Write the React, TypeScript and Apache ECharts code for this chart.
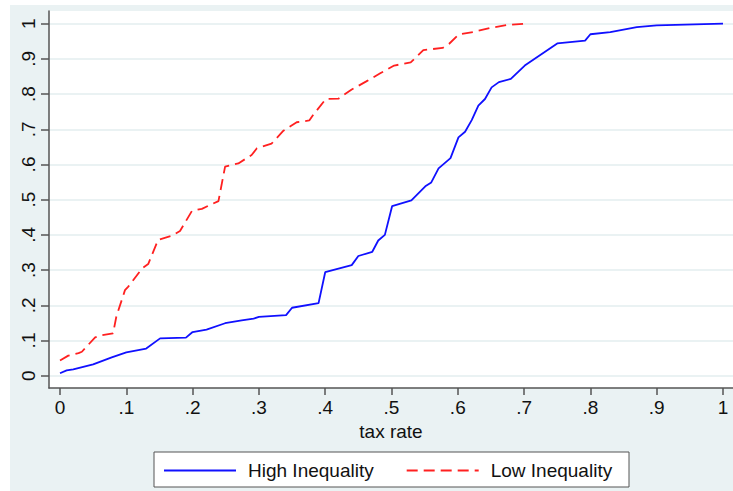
import React, { useEffect, useRef } from "react";
import * as echarts from "echarts";

// High Inequality (solid blue)
const hiX = [0, 0.01, 0.02, 0.05, 0.078, 0.1, 0.13, 0.151, 0.19, 0.2, 0.221, 0.249, 0.274, 0.292, 0.3, 0.341, 0.35, 0.39, 0.4, 0.44, 0.45, 0.471, 0.48, 0.49, 0.501, 0.53, 0.551, 0.56, 0.571, 0.589, 0.601, 0.611, 0.621, 0.631, 0.641, 0.651, 0.662, 0.68, 0.701, 0.75, 0.792, 0.8, 0.83, 0.87, 0.9, 1.0];
const hiY = [0.007, 0.015, 0.018, 0.032, 0.052, 0.066, 0.077, 0.106, 0.108, 0.124, 0.131, 0.149, 0.157, 0.162, 0.167, 0.172, 0.193, 0.206, 0.294, 0.314, 0.34, 0.352, 0.384, 0.4, 0.482, 0.498, 0.538, 0.549, 0.589, 0.618, 0.677, 0.693, 0.726, 0.767, 0.786, 0.819, 0.834, 0.843, 0.881, 0.944, 0.952, 0.97, 0.976, 0.99, 0.995, 1.0];

// Low Inequality (dashed red)
const loX = [0, 0.0125, 0.028, 0.033, 0.053, 0.063, 0.08, 0.085, 0.098, 0.103, 0.124, 0.133, 0.148, 0.168, 0.181, 0.199, 0.214, 0.239, 0.249, 0.269, 0.289, 0.297, 0.319, 0.337, 0.357, 0.376, 0.382, 0.401, 0.42, 0.44, 0.462, 0.483, 0.504, 0.529, 0.548, 0.577, 0.587, 0.601, 0.625, 0.649, 0.674, 0.701];
const loY = [0.043, 0.057, 0.064, 0.068, 0.109, 0.115, 0.12, 0.168, 0.243, 0.253, 0.305, 0.317, 0.386, 0.397, 0.411, 0.468, 0.474, 0.496, 0.594, 0.603, 0.627, 0.646, 0.659, 0.696, 0.72, 0.725, 0.741, 0.786, 0.787, 0.813, 0.836, 0.859, 0.881, 0.89, 0.925, 0.931, 0.943, 0.969, 0.977, 0.988, 0.996, 1.0];

const tickValues = [0, 0.1, 0.2, 0.3, 0.4, 0.5, 0.6, 0.7, 0.8, 0.9, 1];
const seriesNames = ["High Inequality", "Low Inequality"];
const xTitle = "tax rate";

const FONT = '"Liberation Sans", Arial, Helvetica, sans-serif';
const BG = "#eaf2f3";
const AXIS = "#555555";

const fmt = (v: number) => {
  const r = Math.round(v * 10) / 10;
  if (r === 0) return "0";
  if (r === 1) return "1";
  return "." + Math.round(r * 10);
};

export default function App() {
  const ref = useRef<HTMLDivElement>(null);
  useEffect(() => {
    document.body.style.margin = "0";
    const chart = echarts.init(ref.current!, null, { renderer: "svg" });
    chart.setOption({
      animation: false,
      backgroundColor: "transparent",
      textStyle: { fontFamily: FONT },
      grid: {
        left: 49,
        top: 11,
        right: 0,
        bottom: 103,
        show: true,
        backgroundColor: "#ffffff",
        borderWidth: 0,
      },
      xAxis: {
        type: "value",
        min: -0.0166,
        max: 1.0151,
        splitNumber: 10,
        name: xTitle,
        nameLocation: "middle",
        nameGap: 32,
        nameTextStyle: { fontSize: 19, color: "#111", fontFamily: FONT },
        axisLine: { show: true, onZero: false, lineStyle: { color: AXIS, width: 1.5 } },
        axisTick: { show: true, customValues: tickValues, length: 7, lineStyle: { color: AXIS, width: 1.5 } },
        axisLabel: {
          customValues: tickValues,
          formatter: fmt,
          fontSize: 19,
          color: "#111",
          margin: 10,
          fontFamily: FONT,
        },
        splitLine: { show: false },
      },
      yAxis: {
        type: "value",
        min: -0.035,
        max: 1.036,
        splitNumber: 10,
        axisLine: { show: true, onZero: false, lineStyle: { color: AXIS, width: 1.5 } },
        axisTick: { show: true, customValues: tickValues, length: 8, lineStyle: { color: AXIS, width: 1.5 } },
        axisLabel: {
          customValues: tickValues,
          formatter: fmt,
          fontSize: 19,
          color: "#111",
          rotate: 90,
          margin: 11,
          fontFamily: FONT,
        },
        splitLine: { show: true, lineStyle: { color: BG, width: 2 } },
      },
      legend: {
        left: 163,
        top: 461,
        padding: 0,
        itemWidth: 72,
        itemHeight: 14,
        itemGap: 32,
        itemStyle: { opacity: 0 },
        textStyle: { fontSize: 19, color: "#111", fontFamily: FONT, padding: [0, 0, 0, 7] },
        data: seriesNames,
      },
      graphic: [
        {
          type: "rect",
          shape: { x: 154, y: 452, width: 475, height: 35 },
          style: { fill: "#ffffff", stroke: AXIS, lineWidth: 1 },
          z: 1,
        },
      ],
      series: [
        {
          name: seriesNames[0],
          type: "line",
          symbol: "none",
          data: hiX.map((x, i) => [x, hiY[i]]),
          lineStyle: { color: "#1010ff", width: 1.8, type: "solid" },
          itemStyle: { color: "#1010ff" },
        },
        {
          name: seriesNames[1],
          type: "line",
          symbol: "none",
          data: loX.map((x, i) => [x, loY[i]]),
          lineStyle: { color: "#ff2020", width: 1.8, type: [11, 6] },
          itemStyle: { color: "#ff2020" },
        },
      ],
    });
    return () => chart.dispose();
  }, []);
  return (
    <div style={{ position: "relative", width: 733, height: 491, background: "#ffffff", overflow: "hidden" }}>
      <div style={{ position: "absolute", left: 10, top: 5, right: 0, bottom: 0, background: BG }} />
      <div ref={ref} style={{ position: "absolute", left: 0, top: 0, width: 733, height: 491 }} />
    </div>
  );
}
